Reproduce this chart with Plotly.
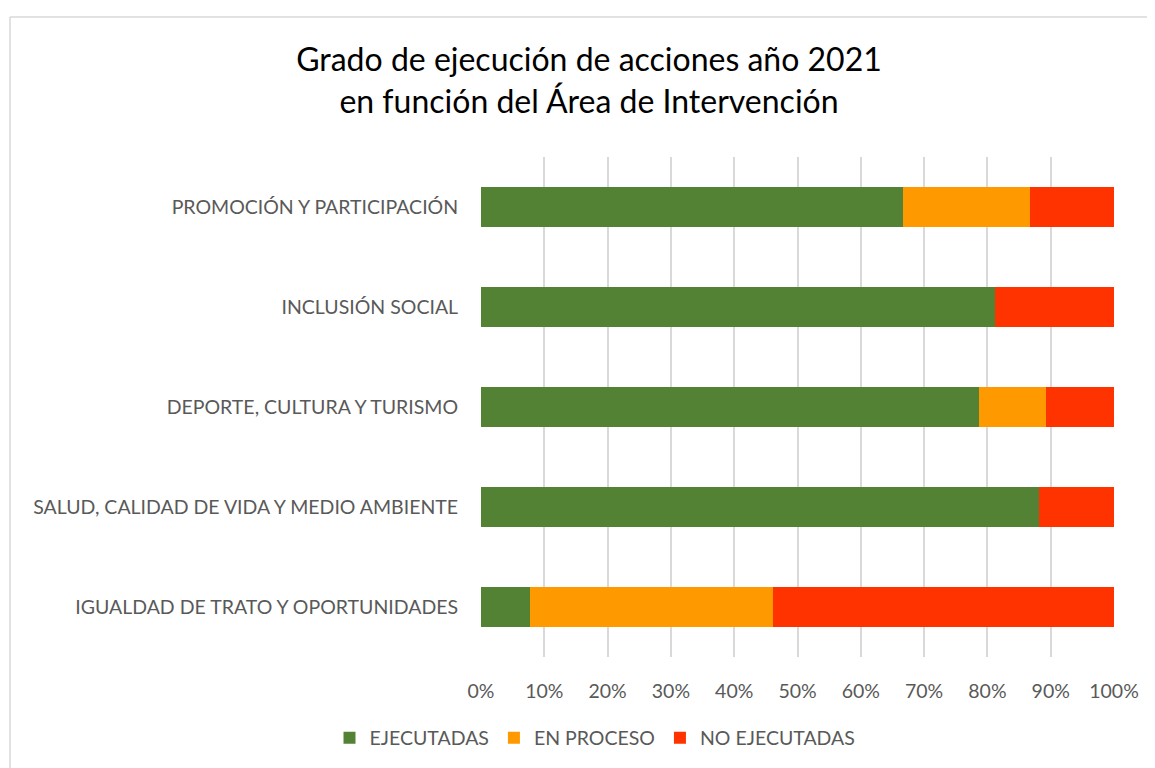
import plotly.graph_objects as go

categories = [
    "IGUALDAD DE TRATO Y OPORTUNIDADES",
    "SALUD, CALIDAD DE VIDA Y MEDIO AMBIENTE",
    "DEPORTE, CULTURA Y TURISMO",
    "INCLUSIÓN SOCIAL",
    "PROMOCIÓN Y PARTICIPACIÓN",
]
ejecutadas = [7.7, 88.1, 78.6, 81.25, 66.7]
en_proceso = [38.5, 0.0, 10.7, 0.0, 20.0]
no_ejecutadas = [53.8, 11.9, 10.7, 18.75, 13.3]

series_names = ["EJECUTADAS", "EN PROCESO", "NO EJECUTADAS"]
series_colors = ["#548235", "#FF9900", "#FF3300"]
tick_vals = [0, 10, 20, 30, 40, 50, 60, 70, 80, 90, 100]
tick_text = [f"{v}%" for v in tick_vals]

FONT = "Lato"
GRAY = "#595959"

# page body has an 8px margin; work in page pixel coords and subtract it
OFF = 8
W, H = 1155 - OFF, 768 - OFF
L, R, T, B = 481 - OFF, 1114 - OFF, 157 - OFF, 657 - OFF


def px(x):
    return (x - OFF - L) / (R - L)


def py(y):
    return (B - (y - OFF)) / (B - T)


fig = go.Figure()
for name, vals, col in zip(series_names, [ejecutadas, en_proceso, no_ejecutadas], series_colors):
    fig.add_trace(go.Bar(
        y=categories, x=vals, name=name, orientation="h",
        marker=dict(color=col, line=dict(width=0)),
        width=0.4,
    ))

fig.update_layout(
    width=W, height=H,
    barmode="stack",
    paper_bgcolor="white", plot_bgcolor="white",
    margin=dict(l=L, r=W - R, t=T, b=H - B, autoexpand=False),
    font=dict(family=FONT, color=GRAY, size=19.5),
    title=dict(
        text="Grado de ejecución de acciones año 2021<br>en función del Área de Intervención",
        x=(589 - OFF) / W, xanchor="center", y=1 - (71 - OFF) / H, yanchor="middle",
        xref="container", yref="container",
        font=dict(family=FONT, size=32, color="black"),
    ),
    xaxis=dict(
        range=[0, 100], tickvals=tick_vals, ticktext=tick_text,
        showgrid=True, gridcolor="#D9D9D9", gridwidth=1.5,
        zeroline=False, showline=False, ticks="outside", ticklen=17,
        tickcolor="rgba(0,0,0,0)",
        tickfont=dict(size=19.5, color=GRAY),
    ),
    yaxis=dict(
        categoryorder="array", categoryarray=categories,
        showgrid=False, zeroline=False, showline=False, ticks="outside",
        ticklen=18, tickcolor="rgba(0,0,0,0)",
        tickfont=dict(size=19.5, color=GRAY),
        range=[-0.5, 4.5],
    ),
    legend=dict(
        orientation="h", traceorder="normal",
        x=px(595), xanchor="center",
        y=py(738), yanchor="middle",
        font=dict(size=19.5, color=GRAY),
        itemwidth=30,
    ),
)

# chart border (light gray frame)
fig.add_shape(type="line", xref="paper", yref="paper",
              x0=px(10), x1=px(1300), y0=py(17), y1=py(17),
              line=dict(color="#D9D9D9", width=1.5))
fig.add_shape(type="line", xref="paper", yref="paper",
              x0=px(10), x1=px(10), y0=py(17), y1=py(900),
              line=dict(color="#D9D9D9", width=1.5))

fig.write_html("out.html")
